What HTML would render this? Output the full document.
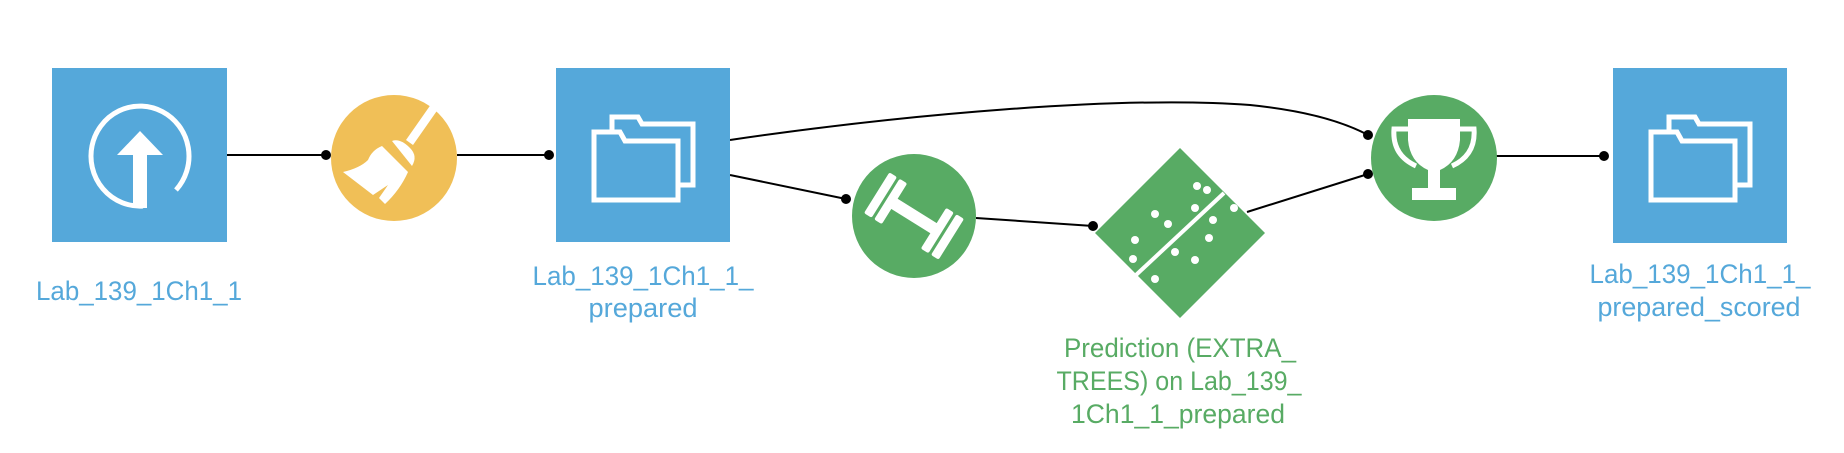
<!DOCTYPE html>
<html><head><meta charset="utf-8"><style>
html,body{margin:0;padding:0;background:#fff;}
svg{display:block;}
text{font-family:"Liberation Sans",sans-serif;font-size:27px;}
</style></head><body>
<svg width="1844" height="453" viewBox="0 0 1844 453" xmlns="http://www.w3.org/2000/svg">
<g stroke="#000" stroke-width="2" fill="none">
<line x1="227" y1="155" x2="326" y2="155"/>
<line x1="457" y1="155" x2="549" y2="155"/>
<path d="M730 140 C 900 115, 1120 95, 1250 105 C 1300 110, 1340 120, 1368 135"/>
<line x1="730" y1="175" x2="846" y2="199"/>
<line x1="976" y1="218" x2="1093" y2="226"/>
<line x1="1247" y1="212" x2="1368" y2="174"/>
<line x1="1496" y1="156" x2="1604" y2="156"/>
</g>
<g fill="#000">
<circle cx="326" cy="155" r="5"/><circle cx="549" cy="155" r="5"/>
<circle cx="846" cy="199" r="5"/><circle cx="1093" cy="226" r="5"/>
<circle cx="1368" cy="135" r="5"/><circle cx="1368" cy="174" r="5"/>
<circle cx="1604" cy="156" r="5"/>
</g>
<rect x="52" y="68" width="175" height="174" fill="#55a8da"/>
<rect x="556" y="68" width="174" height="174" fill="#55a8da"/>
<rect x="1613" y="68" width="174" height="175" fill="#55a8da"/>
<path d="M143 206 A 49 50 0 1 1 176 190" stroke="#fff" stroke-width="5" fill="none"/>
<polygon points="140,131 117,155 163,155" fill="#fff"/>
<rect x="133" y="150" width="14" height="58" fill="#fff"/>
<g stroke="#fff" stroke-width="5" fill="none">
<path d="M612 130 V117 H638 L642 124 H693 V185 H680"/>
<path d="M594 200 V132 H620 L625 141 H678 V200 Z"/>
<path d="M1669 130 V117 H1695 L1699 124 H1750 V185 H1737"/>
<path d="M1651 200 V132 H1677 L1682 141 H1735 V200 Z"/>
</g>
<circle cx="394" cy="158" r="63" fill="#f0bf57"/>
<g fill="#fff">
<polygon points="434,100 441,105 413,145 406,140"/>
<path d="M392 141 Q400 138 410 148 Q418 156 412 166 Z"/>
<path d="M382 146 L408 172 Q400 190 385 204 L379 198 L388 185 L373 195 L343 172 Q360 168 368 160 Q372 150 382 146 Z"/>
</g>
<circle cx="914" cy="216" r="62" fill="#58ab64"/>
<g fill="#fff" transform="rotate(-58 914 216)">
<rect x="908" y="188" width="12" height="56"/>
<rect x="890" y="172" width="48" height="9" rx="2"/>
<rect x="890" y="184" width="48" height="9" rx="2"/>
<rect x="890" y="239" width="48" height="9" rx="2"/>
<rect x="890" y="251" width="48" height="9" rx="2"/>
</g>
<polygon points="1180,148 1265,233 1180,318 1095,233" fill="#58ab64"/>
<line x1="1224" y1="193" x2="1136" y2="275" stroke="#fff" stroke-width="4"/>
<g fill="#fff">
<circle cx="1197" cy="186" r="4"/><circle cx="1207" cy="190" r="4"/>
<circle cx="1195" cy="208" r="4"/><circle cx="1234" cy="208" r="4"/>
<circle cx="1155" cy="214" r="4"/><circle cx="1168" cy="224" r="4"/>
<circle cx="1213" cy="220" r="4"/><circle cx="1209" cy="238" r="4"/>
<circle cx="1135" cy="240" r="4"/><circle cx="1133" cy="259" r="4"/>
<circle cx="1175" cy="252" r="4"/><circle cx="1195" cy="260" r="4"/>
<circle cx="1155" cy="279" r="4"/>
</g>
<circle cx="1434" cy="158" r="63" fill="#58ab64"/>
<g fill="#fff">
<path d="M1408 119 H1460 V140 Q1458 162 1440 170 V188 H1456 V200 H1412 V188 H1428 V170 Q1410 162 1408 140 Z"/>
</g>
<g stroke="#fff" stroke-width="5" fill="none">
<path d="M1410 129 H1394 Q1392 155 1416 166"/>
<path d="M1458 129 H1474 Q1476 155 1452 166"/>
</g>
<g fill="#55a8da" text-anchor="middle">
<text x="139" y="300" textLength="206" lengthAdjust="spacingAndGlyphs">Lab_139_1Ch1_1</text>
<text x="643" y="285" textLength="221" lengthAdjust="spacingAndGlyphs">Lab_139_1Ch1_1_</text>
<text x="643" y="317" textLength="109" lengthAdjust="spacingAndGlyphs">prepared</text>
<text x="1700" y="283" textLength="221" lengthAdjust="spacingAndGlyphs">Lab_139_1Ch1_1_</text>
<text x="1699" y="316" textLength="203" lengthAdjust="spacingAndGlyphs">prepared_scored</text>
</g>
<g fill="#58ab64" text-anchor="middle">
<text x="1180" y="357" textLength="232" lengthAdjust="spacingAndGlyphs">Prediction (EXTRA_</text>
<text x="1179" y="390" textLength="245" lengthAdjust="spacingAndGlyphs">TREES) on Lab_139_</text>
<text x="1178" y="423" textLength="214" lengthAdjust="spacingAndGlyphs">1Ch1_1_prepared</text>
</g>
</svg>
</body></html>
